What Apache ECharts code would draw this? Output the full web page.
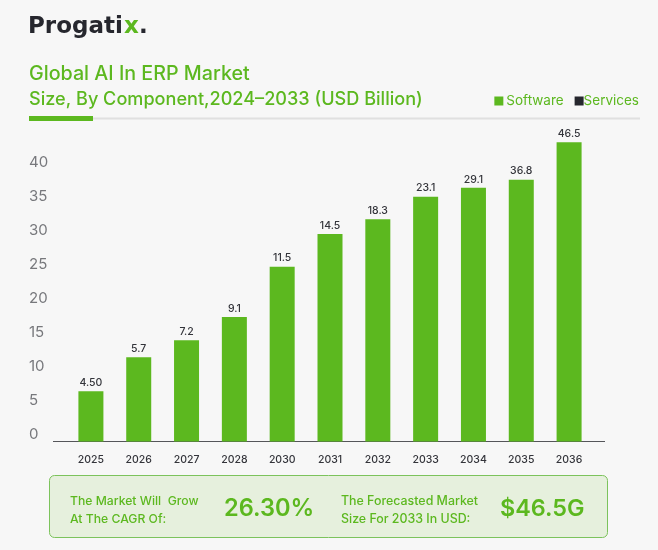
<!DOCTYPE html>
<html>
<head>
<meta charset="utf-8">
<title>Global AI In ERP Market</title>
<script src="https://cdn.jsdelivr.net/npm/echarts@6/dist/echarts.min.js"></script>
<style>
  html, body { margin: 0; padding: 0; background: #f7f7f7; }
  #chart { width: 658px; height: 550px; }
</style>
</head>
<body>
<div id="chart"></div>
<script>
// values
const years = ["2025", "2026", "2027", "2028", "2030", "2031", "2032", "2033", "2034", "2035", "2036"];
// bar heights on the drawn axis (the picture's bars do not follow their printed labels)
const softwareHeights = [7.4, 12.4, 14.9, 18.3, 25.7, 30.5, 32.7, 36, 37.3, 38.5, 44];
const softwareLabels = ["4.50", "5.7", "7.2", "9.1", "11.5", "14.5", "18.3", "23.1", "29.1", "36.8", "46.5"];
const servicesValues = [];

const green = "#5cb81f";
const dark = "#26272e";
const font = "Inter";

const chart = echarts.init(document.getElementById("chart"));

const option = {
  backgroundColor: "#f7f7f7",
  animation: false,
  textStyle: { fontFamily: font },
  legend: {
    right: 14,
    top: 89,
    itemWidth: 9,
    itemHeight: 9,
    itemGap: 11,
    icon: "rect",
    data: [
      { name: "Software", textStyle: { padding: [0, 0, 0, -2] } },
      { name: "Services", textStyle: { padding: [0, 0, 0, -5] } },
    ],
    textStyle: { color: green, fontSize: 13.5, fontFamily: font },
  },
  grid: { left: 67, width: 526, top: 101.5, height: 340 },
  xAxis: {
    type: "category",
    data: years,
    axisLine: { show: false },
    axisTick: { show: false },
    axisLabel: { color: "#33343a", fontSize: 10.5, fontWeight: 500, margin: 13 },
  },
  yAxis: {
    type: "value",
    min: 0,
    max: 50,
    interval: 5,
    splitLine: { show: false },
    axisLine: { show: false },
    axisTick: { show: false },
    axisLabel: {
      color: "#77787c",
      fontSize: 15,
      align: "left",
      verticalAlign: "bottom",
      margin: 38,
      formatter: (v) => (v > 40 ? "" : String(v)),
    },
  },
  series: [
    {
      name: "Software",
      type: "bar",
      stack: "total",
      barWidth: 25,
      itemStyle: { color: green },
      data: softwareHeights,
      label: {
        show: true,
        position: "top",
        distance: 3,
        color: "#33343a",
        fontSize: 10.5,
        fontWeight: 500,
        formatter: (p) => softwareLabels[p.dataIndex],
      },
    },
    {
      name: "Services",
      type: "bar",
      stack: "total",
      itemStyle: { color: dark },
      data: servicesValues,
    },
  ],
  graphic: [
    // logo
    { type: "text", left: 28, top: 16, style: { text: "Progati", fill: dark, font: "800 23px 'DejaVu Sans'" } },
    { type: "text", left: 124, top: 16, style: { text: "x", fill: green, font: "800 23px 'DejaVu Sans'" } },
    { type: "text", left: 139, top: 16, style: { text: ".", fill: dark, font: "800 23px 'DejaVu Sans'" } },
    // heading
    { type: "text", left: 29, top: 64, style: { text: "Global AI In ERP Market", fill: green, font: "500 19.7px Inter" } },
    { type: "text", left: 29, top: 91, style: { text: "Size, By Component,2024–2033 (USD Billion)", fill: green, font: "500 18.1px Inter" } },
    // rules under the heading
    { type: "rect", shape: { x: 93, y: 117.5, width: 547, height: 2 }, style: { fill: "#e0e0e0" } },
    { type: "rect", shape: { x: 29, y: 116, width: 64, height: 5 }, style: { fill: green } },
    // baseline
    { type: "rect", shape: { x: 53, y: 441, width: 552, height: 1 }, style: { fill: "#55565a" } },
    // summary panel
    {
      type: "rect",
      shape: { x: 49.5, y: 475.5, width: 558, height: 62, r: 5 },
      style: { fill: "#e6f0dd", stroke: "#7cc35c", lineWidth: 1 },
    },
    { type: "text", left: 70, top: 495, style: { text: "The Market Will  Grow", fill: green, font: "500 12.2px Inter" } },
    { type: "text", left: 70, top: 513, style: { text: "At The CAGR Of:", fill: green, font: "500 12.2px Inter" } },
    { type: "text", left: 224, top: 497, style: { text: "26.30%", fill: green, font: "600 23.6px Inter" } },
    { type: "text", left: 341, top: 495, style: { text: "The Forecasted Market", fill: green, font: "500 12.4px Inter" } },
    { type: "text", left: 341, top: 513, style: { text: "Size For 2033 In USD:", fill: green, font: "500 12.4px Inter" } },
    { type: "text", left: 500, top: 497, style: { text: "$46.5G", fill: green, font: "600 23.4px Inter" } },
  ],
};

chart.setOption(option);
</script>
</body>
</html>
